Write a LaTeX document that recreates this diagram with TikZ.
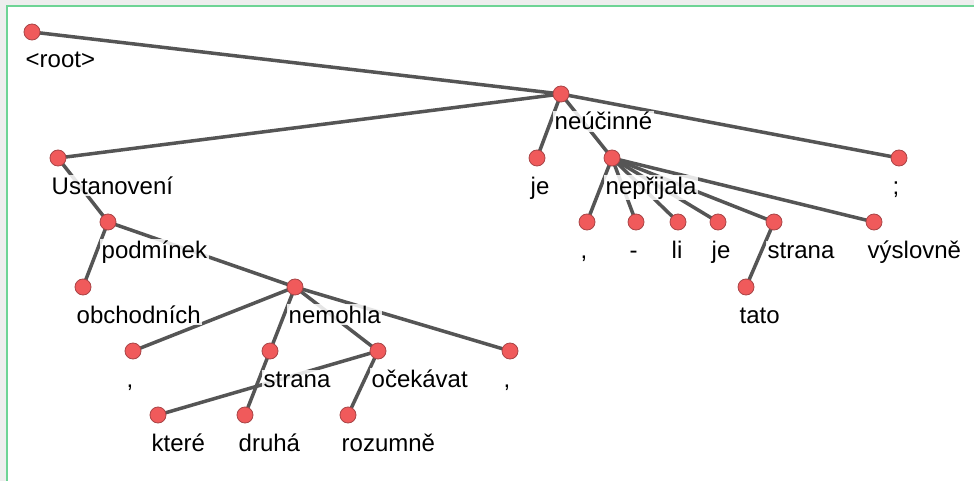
\documentclass[tikz,border=0pt]{standalone}
\usepackage{fontspec}
\setmainfont{Liberation Sans}
\usepackage{tikz}
\usetikzlibrary{calc}
\usepackage{xcolor}
\definecolor{EdgeGrey}{HTML}{555555}
\definecolor{DotRed}{HTML}{F05A5B}
\definecolor{DotRim}{HTML}{A94446}
\definecolor{FrameGreen}{HTML}{6ED495}
\definecolor{PageGrey}{HTML}{EEEEEE}
\tikzset{%
  tree_dot/.style={%
    circle,%
    minimum size=16pt,%
    inner sep=0pt,%
    fill=DotRed,%
    draw=DotRim,%
    line width=0.8pt,%
  },
  tree_edge/.style={%
    color=EdgeGrey,%
    line width=3.5pt,%
  },
  tree_word/.style={%
    anchor=base west,%
    fill=white,%
    fill opacity=0.85,%
    text opacity=1,%
    inner sep=1.5pt,%
    font={\fontsize{24}{28}\selectfont},%
  },
}

\begin{document}
\begin{tikzpicture}[x=1pt, y=-1pt]

    % page and frame
    \useasboundingbox (0,0) rectangle (974,481);
    \fill [PageGrey] (0,0) rectangle (974,481);
    \fill [white] (7,6) rectangle (974,481);
    \draw [FrameGreen, line width=2pt] (7,481) -- (7,6) -- (974,6);

    % positions of the words
    \coordinate (root) at (32,32);
    \coordinate (neucinne) at (561,94);
    \coordinate (ustanoveni) at (58,158);
    \coordinate (je_a) at (537,158);
    \coordinate (neprijala) at (612,158);
    \coordinate (semicolon) at (899,158);
    \coordinate (podminek) at (108,222);
    \coordinate (comma_a) at (587,222);
    \coordinate (dash) at (636,222);
    \coordinate (li) at (678,222);
    \coordinate (je_b) at (718,222);
    \coordinate (strana_a) at (774,222);
    \coordinate (vyslovne) at (874,222);
    \coordinate (obchodnich) at (83,287);
    \coordinate (nemohla) at (295,287);
    \coordinate (tato) at (746,287);
    \coordinate (comma_b) at (133,351);
    \coordinate (strana_b) at (270,351);
    \coordinate (ocekavat) at (378,351);
    \coordinate (comma_c) at (510,351);
    \coordinate (ktere) at (158,415);
    \coordinate (druha) at (245,415);
    \coordinate (rozumne) at (348,415);

    % dependencies
    \draw [tree_edge] (root) -- (neucinne);
    \draw [tree_edge] (neucinne) -- (ustanoveni);
    \draw [tree_edge] (neucinne) -- (je_a);
    \draw [tree_edge] (neucinne) -- (neprijala);
    \draw [tree_edge] (neucinne) -- (semicolon);
    \draw [tree_edge] (ustanoveni) -- (podminek);
    \draw [tree_edge] (podminek) -- (obchodnich);
    \draw [tree_edge] (podminek) -- (nemohla);
    \draw [tree_edge] (nemohla) -- (comma_b);
    \draw [tree_edge] (nemohla) -- (strana_b);
    \draw [tree_edge] (nemohla) -- (ocekavat);
    \draw [tree_edge] (nemohla) -- (comma_c);
    \draw [tree_edge] (strana_b) -- (druha);
    \draw [tree_edge] (ocekavat) -- (ktere);
    \draw [tree_edge] (ocekavat) -- (rozumne);
    \draw [tree_edge] (neprijala) -- (comma_a);
    \draw [tree_edge] (neprijala) -- (dash);
    \draw [tree_edge] (neprijala) -- (li);
    \draw [tree_edge] (neprijala) -- (je_b);
    \draw [tree_edge] (neprijala) -- (strana_a);
    \draw [tree_edge] (neprijala) -- (vyslovne);
    \draw [tree_edge] (strana_a) -- (tato);

    % words
    \node [tree_word] (root_word) at ($(root)+(-8,36)$) {<root>};
    \node [tree_word] (neucinne_word) at ($(neucinne)+(-8,36)$) {neúčinné};
    \node [tree_word] (ustanoveni_word) at ($(ustanoveni)+(-8,36)$) {Ustanovení};
    \node [tree_word] (je_a_word) at ($(je_a)+(-8,36)$) {je};
    \node [tree_word] (neprijala_word) at ($(neprijala)+(-8,36)$) {nepřijala};
    \node [tree_word] (semicolon_word) at ($(semicolon)+(-8,36)$) {;};
    \node [tree_word] (podminek_word) at ($(podminek)+(-8,36)$) {podmínek};
    \node [tree_word] (comma_a_word) at ($(comma_a)+(-8,36)$) {,};
    \node [tree_word] (dash_word) at ($(dash)+(-8,36)$) {-};
    \node [tree_word] (li_word) at ($(li)+(-8,36)$) {li};
    \node [tree_word] (je_b_word) at ($(je_b)+(-8,36)$) {je};
    \node [tree_word] (strana_a_word) at ($(strana_a)+(-8,36)$) {strana};
    \node [tree_word] (vyslovne_word) at ($(vyslovne)+(-8,36)$) {výslovně};
    \node [tree_word] (obchodnich_word) at ($(obchodnich)+(-8,36)$) {obchodních};
    \node [tree_word] (nemohla_word) at ($(nemohla)+(-8,36)$) {nemohla};
    \node [tree_word] (tato_word) at ($(tato)+(-8,36)$) {tato};
    \node [tree_word] (comma_b_word) at ($(comma_b)+(-8,36)$) {,};
    \node [tree_word] (strana_b_word) at ($(strana_b)+(-8,36)$) {strana};
    \node [tree_word] (ocekavat_word) at ($(ocekavat)+(-8,36)$) {očekávat};
    \node [tree_word] (comma_c_word) at ($(comma_c)+(-8,36)$) {,};
    \node [tree_word] (ktere_word) at ($(ktere)+(-8,36)$) {které};
    \node [tree_word] (druha_word) at ($(druha)+(-8,36)$) {druhá};
    \node [tree_word] (rozumne_word) at ($(rozumne)+(-8,36)$) {rozumně};

    % dots
    \node [tree_dot] (root_dot) at (root) {};
    \node [tree_dot] (neucinne_dot) at (neucinne) {};
    \node [tree_dot] (ustanoveni_dot) at (ustanoveni) {};
    \node [tree_dot] (je_a_dot) at (je_a) {};
    \node [tree_dot] (neprijala_dot) at (neprijala) {};
    \node [tree_dot] (semicolon_dot) at (semicolon) {};
    \node [tree_dot] (podminek_dot) at (podminek) {};
    \node [tree_dot] (comma_a_dot) at (comma_a) {};
    \node [tree_dot] (dash_dot) at (dash) {};
    \node [tree_dot] (li_dot) at (li) {};
    \node [tree_dot] (je_b_dot) at (je_b) {};
    \node [tree_dot] (strana_a_dot) at (strana_a) {};
    \node [tree_dot] (vyslovne_dot) at (vyslovne) {};
    \node [tree_dot] (obchodnich_dot) at (obchodnich) {};
    \node [tree_dot] (nemohla_dot) at (nemohla) {};
    \node [tree_dot] (tato_dot) at (tato) {};
    \node [tree_dot] (comma_b_dot) at (comma_b) {};
    \node [tree_dot] (strana_b_dot) at (strana_b) {};
    \node [tree_dot] (ocekavat_dot) at (ocekavat) {};
    \node [tree_dot] (comma_c_dot) at (comma_c) {};
    \node [tree_dot] (ktere_dot) at (ktere) {};
    \node [tree_dot] (druha_dot) at (druha) {};
    \node [tree_dot] (rozumne_dot) at (rozumne) {};

\end{tikzpicture}
\end{document}
